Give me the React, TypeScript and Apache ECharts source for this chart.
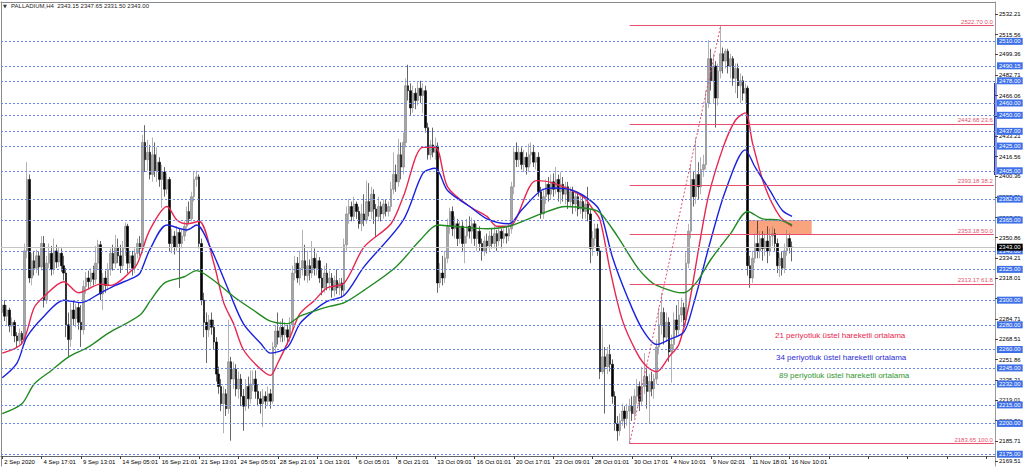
import React, { useEffect, useRef } from "react";
import * as echarts from "echarts";

// ---------- DATA ----------
const symbolName = "PALLADIUM,H4";

// time-scale tick labels, one every 16 H4 bars
const xLabels = [
  "2 Sep 2020", "4 Sep 17:01", "9 Sep 13:01", "14 Sep 05:01", "16 Sep 21:01",
  "21 Sep 13:01", "24 Sep 05:01", "28 Sep 21:01", "1 Oct 13:01", "6 Oct 05:01",
  "8 Oct 21:01", "13 Oct 09:01", "16 Oct 01:01", "20 Oct 17:01", "23 Oct 09:01",
  "28 Oct 01:01", "30 Oct 17:01", "4 Nov 10:01", "9 Nov 02:01", "11 Nov 18:01",
  "16 Nov 10:01",
];
const labelStep = 16;
const slotCount = 404; // bar slots visible on the time scale (incl. empty right margin)

// H4 candles: [open, close, low, high]
const ohlc: number[][] = [
  [2290,2296,2284,2302],[2296,2287,2283,2300],[2287,2292,2280,2296],[2292,2279,2274,2294],
  [2279,2282,2271,2286],[2282,2271,2266,2284],[2271,2267,2262,2274],[2267,2273,2264,2277],
  [2273,2268,2264,2275],[2268,2340,2266,2346],[2340,2398,2334,2412],[2398,2318,2314,2402],
  [2318,2332,2312,2338],[2332,2326,2320,2340],[2326,2336,2322,2341],[2336,2327,2320,2339],
  [2327,2346,2324,2352],[2346,2300,2294,2352],[2300,2330,2297,2336],[2330,2338,2326,2346],
  [2338,2325,2320,2344],[2325,2340,2321,2350],[2340,2331,2326,2345],[2331,2338,2327,2343],
  [2338,2328,2323,2342],[2328,2322,2316,2336],[2322,2280,2270,2326],[2280,2268,2254,2290],
  [2268,2292,2262,2298],[2292,2285,2279,2300],[2285,2294,2278,2297],[2294,2282,2276,2298],
  [2282,2276,2262,2296],[2276,2311,2272,2316],[2311,2318,2305,2323],[2318,2315,2309,2324],
  [2315,2322,2311,2326],[2322,2317,2312,2328],[2317,2330,2313,2344],[2330,2345,2325,2349],
  [2345,2305,2300,2348],[2305,2318,2292,2322],[2318,2312,2306,2324],[2312,2325,2308,2330],
  [2325,2338,2320,2342],[2338,2330,2324,2345],[2330,2343,2326,2353],[2343,2336,2330,2350],
  [2336,2328,2322,2345],[2328,2342,2325,2348],[2342,2360,2336,2363],[2360,2330,2322,2362],
  [2330,2336,2326,2340],[2336,2326,2320,2340],[2326,2338,2322,2342],[2338,2346,2334,2350],
  [2346,2342,2336,2352],[2342,2428,2338,2434],[2428,2414,2404,2442],[2414,2420,2405,2430],
  [2420,2402,2398,2426],[2402,2418,2396,2432],[2418,2405,2400,2428],[2405,2412,2396,2424],
  [2412,2398,2392,2416],[2398,2404,2375,2410],[2404,2390,2384,2408],[2390,2398,2386,2403],
  [2398,2346,2340,2400],[2346,2352,2338,2358],[2352,2343,2337,2356],[2343,2355,2340,2360],
  [2355,2346,2310,2358],[2346,2352,2342,2357],[2352,2360,2348,2364],[2360,2372,2355,2376],
  [2372,2366,2362,2380],[2366,2384,2364,2388],[2384,2398,2380,2405],[2398,2400,2392,2405],
  [2400,2346,2342,2402],[2346,2300,2296,2350],[2300,2282,2270,2306],[2282,2276,2249,2290],
  [2276,2284,2270,2288],[2284,2278,2272,2290],[2278,2266,2260,2284],[2266,2240,2234,2270],
  [2240,2230,2224,2246],[2230,2216,2210,2236],[2216,2224,2192,2230],[2224,2212,2206,2228],
  [2212,2250,2208,2284],[2250,2236,2186,2254],[2236,2244,2228,2250],[2244,2228,2222,2248],
  [2228,2236,2220,2242],[2236,2222,2214,2240],[2222,2214,2194,2228],[2214,2230,2210,2236],
  [2230,2220,2212,2238],[2220,2232,2216,2243],[2232,2236,2226,2243],[2236,2226,2220,2243],
  [2226,2220,2214,2232],[2220,2216,2208,2226],[2216,2222,2197,2228],[2222,2218,2212,2226],
  [2218,2224,2214,2230],[2224,2218,2212,2228],[2218,2262,2216,2266],[2262,2275,2256,2280],
  [2275,2270,2264,2290],[2270,2278,2266,2283],[2278,2272,2266,2285],[2272,2276,2267,2282],
  [2276,2270,2264,2280],[2270,2280,2266,2286],[2280,2322,2276,2328],[2322,2330,2316,2336],
  [2330,2318,2314,2335],[2318,2326,2312,2340],[2326,2332,2320,2357],[2332,2320,2316,2345],
  [2320,2328,2314,2340],[2328,2322,2316,2333],[2322,2334,2318,2348],[2334,2326,2320,2342],
  [2326,2332,2320,2338],[2332,2318,2314,2335],[2318,2310,2304,2326],[2310,2322,2306,2328],
  [2322,2314,2308,2330],[2314,2318,2308,2324],[2318,2308,2302,2322],[2308,2316,2303,2320],
  [2316,2310,2305,2325],[2310,2314,2304,2318],[2314,2308,2302,2318],[2308,2345,2304,2350],
  [2345,2370,2340,2376],[2370,2376,2362,2382],[2376,2368,2364,2380],[2368,2378,2364,2384],
  [2378,2372,2366,2380],[2372,2362,2358,2376],[2362,2370,2356,2378],[2370,2365,2360,2386],
  [2365,2380,2362,2397],[2380,2372,2368,2395],[2372,2386,2366,2392],[2386,2374,2362,2390],
  [2374,2368,2351,2378],[2368,2376,2364,2384],[2376,2370,2364,2380],[2370,2378,2366,2382],
  [2378,2372,2368,2382],[2372,2376,2368,2380],[2376,2390,2372,2396],[2390,2402,2386,2420],
  [2402,2396,2388,2410],[2396,2418,2392,2431],[2418,2408,2398,2428],[2408,2428,2402,2436],
  [2428,2474,2424,2480],[2474,2470,2462,2491],[2470,2456,2450,2476],[2456,2468,2452,2474],
  [2468,2462,2455,2472],[2462,2472,2458,2477],[2472,2466,2460,2478],[2466,2470,2452,2476],
  [2470,2440,2436,2474],[2440,2418,2414,2444],[2418,2426,2414,2430],[2426,2420,2416,2440],
  [2420,2425,2414,2432],[2425,2314,2306,2428],[2314,2322,2310,2330],[2322,2318,2312,2336],
  [2318,2334,2314,2340],[2334,2360,2330,2366],[2360,2372,2354,2375],[2372,2358,2352,2376],
  [2358,2362,2350,2368],[2362,2350,2344,2366],[2350,2360,2346,2364],[2360,2346,2340,2364],
  [2346,2352,2330,2358],[2352,2360,2346,2366],[2360,2356,2350,2368],[2356,2362,2346,2367],
  [2362,2350,2344,2365],[2350,2356,2340,2362],[2356,2346,2340,2360],[2346,2340,2332,2350],
  [2340,2348,2336,2352],[2348,2344,2338,2354],[2344,2352,2340,2356],[2352,2346,2342,2358],
  [2346,2354,2342,2360],[2354,2348,2340,2357],[2348,2356,2344,2360],[2356,2350,2342,2358],
  [2350,2354,2346,2358],[2354,2352,2346,2360],[2352,2358,2348,2362],[2358,2392,2354,2396],
  [2392,2420,2386,2424],[2420,2414,2408,2428],[2414,2420,2408,2424],[2420,2410,2406,2424],
  [2410,2416,2404,2422],[2416,2408,2402,2420],[2408,2418,2404,2427],[2418,2420,2410,2428],
  [2420,2412,2408,2426],[2412,2416,2406,2420],[2416,2388,2384,2420],[2388,2370,2366,2392],
  [2370,2384,2366,2390],[2384,2394,2378,2398],[2394,2386,2380,2400],[2386,2396,2382,2402],
  [2396,2390,2384,2403],[2390,2398,2386,2408],[2398,2388,2380,2402],[2388,2394,2378,2404],
  [2394,2386,2380,2400],[2386,2392,2378,2396],[2392,2380,2374,2396],[2380,2388,2376,2392],
  [2388,2378,2370,2392],[2378,2384,2372,2388],[2384,2374,2368,2388],[2374,2380,2370,2386],
  [2380,2372,2366,2384],[2372,2378,2366,2382],[2378,2370,2364,2392],[2370,2342,2330,2374],
  [2342,2350,2336,2356],[2350,2358,2344,2362],[2358,2340,2336,2362],[2340,2242,2236,2344],
  [2242,2254,2240,2278],[2254,2246,2208,2262],[2246,2256,2240,2262],[2256,2248,2242,2264],
  [2248,2222,2216,2252],[2222,2200,2194,2226],[2200,2194,2186,2206],[2194,2202,2190,2208],
  [2202,2210,2198,2216],[2210,2204,2196,2214],[2204,2210,2198,2216],[2210,2214,2183.65,2220],
  [2214,2208,2202,2222],[2208,2222,2204,2228],[2222,2230,2216,2236],[2230,2218,2210,2234],
  [2218,2230,2214,2246],[2230,2238,2224,2257],[2238,2226,2212,2244],[2226,2234,2200,2240],
  [2234,2228,2222,2242],[2228,2236,2220,2240],[2236,2262,2232,2268],[2262,2280,2256,2294],
  [2280,2290,2272,2306],[2290,2270,2264,2294],[2270,2282,2266,2290],[2282,2258,2250,2286],
  [2258,2264,2233,2272],[2264,2284,2260,2290],[2284,2276,2270,2296],[2276,2288,2272,2300],
  [2288,2294,2282,2302],[2294,2284,2278,2298],[2284,2330,2280,2340],[2330,2356,2326,2362],
  [2356,2398,2350,2410],[2398,2384,2376,2404],[2384,2402,2378,2432],[2402,2392,2382,2412],
  [2392,2406,2386,2416],[2406,2410,2400,2418],[2410,2460,2406,2470],[2460,2496,2456,2511],
  [2496,2478,2470,2504],[2478,2490,2460,2500],[2490,2464,2440,2494],[2464,2486,2458,2492],
  [2486,2500,2480,2522.7],[2500,2494,2484,2505],[2494,2502,2488,2504],[2502,2490,2484,2504],
  [2490,2496,2480,2500],[2496,2480,2474,2498],[2480,2488,2468,2492],[2488,2474,2464,2492],
  [2474,2478,2460,2484],[2478,2468,2462,2482],[2468,2472,2460,2476],[2472,2328,2320,2474],
  [2328,2318,2310,2336],[2318,2334,2314,2340],[2334,2346,2330,2354],[2346,2340,2334,2365],
  [2340,2350,2334,2356],[2350,2342,2332,2356],[2342,2348,2336,2354],[2348,2340,2330,2360],
  [2340,2352,2336,2358],[2352,2354,2344,2360],[2354,2346,2340,2358],[2346,2328,2322,2350],
  [2328,2334,2318.8,2338],[2334,2326,2320,2340],[2326,2340,2322,2346],[2340,2350,2336,2357],
  [2350,2343.15,2338,2354],[2343.15,2343.0,2331.5,2347.65],
];

// moving averages: [bar index, price]
const ema21: number[][] = [
  [0,2257],[8,2265],[13,2294],[17,2303],[25,2315],[31,2306],[40,2313],[44,2312],[54,2327],
  [56,2335],[60,2357],[67,2376],[71,2365],[75,2362],[80,2364],[86,2330],[90,2298],[94,2281],
  [98,2260],[104,2246],[109,2239],[112,2249],[117,2270],[121,2289],[127,2300],[132,2310],
  [139,2314],[147,2343],[158,2362],[163,2384],[171,2424],[176,2424],[181,2392],[190,2376],
  [197,2368],[201,2360],[206,2360],[217,2397],[224,2395],[236,2384],[240,2374],[243,2365],
  [247,2325],[252,2284],[258,2257],[262,2246],[266,2242],[271,2254],[275,2264],[279,2295],
  [283,2341],[287,2384],[293,2424],[298,2446],[302,2452],[305,2427],[310,2392],[316,2368],
  [321,2360],
];
const ema34: number[][] = [
  [0,2237],[6,2249],[10,2270],[17,2287],[25,2300],[32,2298],[40,2306],[46,2312],[54,2319],
  [56,2322],[60,2341],[67,2361],[75,2357],[79,2361],[85,2341],[92,2308],[98,2281],[105,2265],
  [109,2257],[116,2262],[121,2281],[127,2292],[132,2299],[139,2304],[147,2327],[163,2365],
  [171,2403],[176,2407],[181,2389],[190,2376],[197,2366],[206,2362],[211,2373],[219,2389],
  [224,2391],[232,2389],[239,2381],[243,2372],[248,2335],[254,2303],[260,2277],[266,2264],
  [271,2268],[277,2274],[281,2297],[288,2349],[294,2389],[302,2422],[306,2408],[312,2389],
  [317,2373],[321,2368],
];
const ema89: number[][] = [
  [0,2208],[8,2216],[13,2232],[20,2243],[27,2254],[35,2262],[43,2273],[56,2288],[60,2299],
  [66,2314],[74,2319],[79,2324],[86,2316],[94,2303],[102,2292],[109,2283],[116,2281],[121,2287],
  [128,2292],[133,2295],[139,2298],[147,2308],[160,2327],[170,2349],[177,2361],[183,2360],
  [197,2358],[206,2360],[219,2370],[229,2376],[239,2374],[243,2371],[250,2352],[258,2327],
  [263,2316],[266,2312],[273,2307],[277,2306],[282,2314],[288,2333],[296,2354],[303,2372],
  [309,2366],[316,2365],[321,2361],
];

// price scale
const priceMin = 2165.45;
const priceMax = 2541.95;
const yTicks = [
  2532.21, 2515.56, 2499.36, 2482.71, 2466.06, 2449.41, 2433.21, 2416.56, 2400.36, 2383.71,
  2367.06, 2350.86, 2334.21, 2318.01, 2301.36, 2284.71, 2268.51, 2251.86, 2235.21, 2219.01,
  2202.36, 2185.71, 2169.51,
];

// horizontal support / resistance levels
const levels = [
  2510, 2490.15, 2478, 2460, 2450, 2437, 2425, 2405, 2382, 2365, 2340, 2325, 2300, 2280,
  2260, 2245, 2232, 2215, 2200, 2175,
];

// Fibonacci retracement
const fibRatios = ["0.0", "23.6", "38.2", "50.0", "61.8", "100.0"];
const fibPrices = [2522.7, 2442.68, 2393.18, 2353.18, 2313.17, 2183.65];
const fibLowBar = 255;
const fibHighBar = 292;

// resistance zone
const zoneBars = [303, 329];
const zonePrices = [2365, 2353.18];

const legendTexts = [
  { text: "21 periyotluk üstel hareketli ortalama", color: "#e8264f" },
  { text: "34 periyotluk üstel hareketli ortalama", color: "#2b2bd6" },
  { text: "89 periyotluk üstel hareketli ortalama", color: "#2f962f" },
];

const FONT = "'Liberation Sans', Arial, sans-serif";

export default function App() {
  const ref = useRef<HTMLDivElement>(null);

  useEffect(() => {
    document.body.style.margin = "0";
    if (!ref.current) return;
    const chart = echarts.init(ref.current, undefined, { renderer: "svg" });

    const categories = Array.from({ length: slotCount }, (_, i) => String(i));
    const last = ohlc[ohlc.length - 1];
    const lastClose = last[1];
    const titleText = `${symbolName}  ${last[0].toFixed(2)} ${last[3].toFixed(2)} ${last[2].toFixed(2)} ${last[1].toFixed(2)}`;

    const fibColor = "#e6506c";

    const option: any = {
      animation: false,
      backgroundColor: "#ffffff",
      textStyle: { fontFamily: FONT },
      grid: { left: 1, right: 29, top: 2, bottom: 10 },
      xAxis: [
        {
          type: "category",
          data: categories,
          boundaryGap: true,
          offset: -10,
          axisLine: { show: true, lineStyle: { color: "#666", width: 1 } },
          axisTick: { show: true, interval: labelStep - 1, alignWithLabel: true, length: 3, lineStyle: { color: "#444" } },
          axisLabel: {
            interval: labelStep - 1,
            fontSize: 6,
            color: "#000",
            align: "left",
            margin: 3,
            padding: [0, 0, 0, 2],
            fontFamily: FONT,
            formatter: (_v: string, i: number) => (i % labelStep === 0 ? xLabels[i / labelStep] ?? "" : ""),
          },
          splitLine: { show: false },
        },
        {
          type: "category",
          data: categories,
          position: "top",
          axisLine: { show: true, lineStyle: { color: "#8a8a8a" } },
          axisTick: { show: false },
          axisLabel: { show: false },
          splitLine: { show: false },
        },
      ],
      yAxis: [
        {
          type: "value",
          position: "right",
          min: priceMin,
          max: priceMax,
          axisLine: { show: true, lineStyle: { color: "#9a9a9a", width: 1 } },
          axisTick: { show: true, length: 3, customValues: yTicks, lineStyle: { color: "#444" } },
          axisLabel: {
            customValues: yTicks,
            fontSize: 6,
            color: "#000",
            margin: 4,
            fontFamily: FONT,
            formatter: (v: number) => v.toFixed(2),
          },
          splitLine: { show: false },
        },
        {
          type: "value",
          position: "left",
          min: priceMin,
          max: priceMax,
          axisLine: { show: true, lineStyle: { color: "#8a8a8a" } },
          axisTick: { show: false },
          axisLabel: { show: false },
          splitLine: { show: false },
        },
      ],
      series: [
        {
          name: "levels",
          type: "line",
          data: [],
          z: 1,
          silent: true,
          markArea: {
            silent: true,
            itemStyle: { color: "#f9a47e" },
            data: [[{ coord: [zoneBars[0], zonePrices[0]] }, { coord: [zoneBars[1], zonePrices[1]] }]],
          },
          markLine: {
            silent: true,
            symbol: "none",
            lineStyle: { color: "#6a86e8", type: [2, 2], width: 1 },
            label: {
              show: true,
              position: "end",
              distance: 2,
              backgroundColor: "#3d6fe8",
              color: "#fff",
              fontSize: 6,
              fontFamily: FONT,
              padding: [1, 2, 0, 2],
              formatter: (p: any) => Number(p.value).toFixed(2),
            },
            data: [
              ...levels.map((v) => ({ yAxis: v })),
              {
                yAxis: lastClose,
                lineStyle: { color: "#c4c4c4", type: "solid", width: 1 },
                label: { backgroundColor: "#000", color: "#fff" },
              },
            ],
          },
        },
        {
          name: "fib",
          type: "line",
          data: [],
          z: 1,
          silent: true,
          markLine: {
            silent: true,
            symbol: "none",
            lineStyle: { color: fibColor, type: "solid", width: 1 },
            label: {
              show: true,
              position: "insideEndTop",
              distance: 1,
              color: fibColor,
              fontSize: 6,
              fontFamily: FONT,
              formatter: "{b}",
            },
            data: [
              ...fibPrices.map((p, i) => [
                { name: `${p.toFixed(2)} ${fibRatios[i]}`, coord: [fibLowBar, p] },
                { coord: [slotCount - 1, p] },
              ]),
              [
                {
                  name: "",
                  coord: [fibLowBar, fibPrices[fibPrices.length - 1]],
                  lineStyle: { type: [2, 2], color: fibColor },
                  label: { show: false },
                },
                { coord: [fibHighBar, fibPrices[0]] },
              ],
            ],
          },
        },
        {
          name: "PALLADIUM",
          type: "candlestick",
          z: 3,
          barWidth: 2,
          data: ohlc,
          itemStyle: {
            color: "#a6a6a6",
            color0: "#000000",
            borderColor: "#808080",
            borderColor0: "#000000",
            borderWidth: 0.6,
          },
        },
        {
          name: "EMA21",
          type: "line",
          z: 4,
          data: ema21,
          symbol: "none",
          smooth: 0.3,
          lineStyle: { color: "#e8264f", width: 1.4 },
        },
        {
          name: "EMA34",
          type: "line",
          z: 4,
          data: ema34,
          symbol: "none",
          smooth: 0.3,
          lineStyle: { color: "#1a22e0", width: 1.4 },
        },
        {
          name: "EMA89",
          type: "line",
          z: 4,
          data: ema89,
          symbol: "none",
          smooth: 0.3,
          lineStyle: { color: "#1f8a1f", width: 1.4 },
        },
      ],
      graphic: [
        {
          type: "text",
          left: 3,
          top: 3,
          style: { text: "▼", fontSize: 5, fill: "#333", fontFamily: "DejaVu Sans" },
        },
        {
          type: "text",
          left: 11,
          top: 3,
          style: { text: titleText, fontSize: 6, fill: "#222", fontFamily: FONT },
        },
        {
          type: "rect",
          shape: { x: 994, y: 83, width: 2.5, height: 92 },
          style: { fill: "#1530d8" },
        },
        ...legendTexts.map((t, i) => ({
          type: "text",
          left: [775, 776, 779][i],
          top: [331, 353, 371][i],
          style: { text: t.text, fontSize: 8, fill: t.color, fontFamily: FONT },
        })),
      ],
    };

    chart.setOption(option);
    return () => chart.dispose();
  }, []);

  return <div ref={ref} style={{ width: 1024, height: 476 }} />;
}
